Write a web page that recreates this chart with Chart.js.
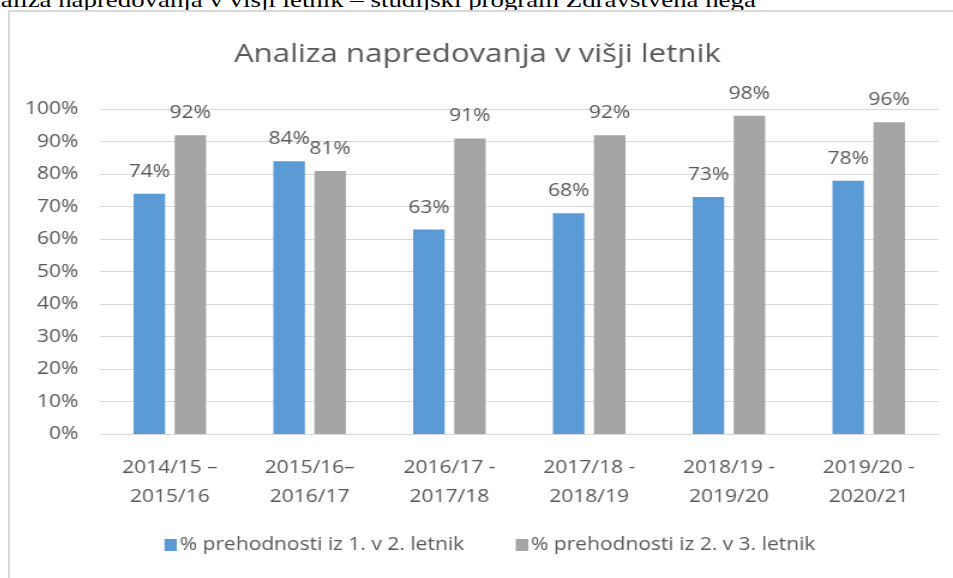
<!DOCTYPE html>
<html>
<head>
<meta charset="utf-8">
<script src="https://cdn.jsdelivr.net/npm/chart.js@4/dist/chart.umd.min.js"></script>
<style>
  html, body { margin: 0; padding: 0; width: 953px; height: 578px; overflow: hidden; background: #ffffff; }
  #caption { position: absolute; left: -32px; top: -11px; white-space: nowrap; font-family: "Liberation Serif", serif; font-size: 22px; line-height: 22px; color: #000; transform: scaleX(1.22); transform-origin: 0 0; }
  #frame { position: absolute; left: 8px; top: 10px; width: 960px; height: 600px; border-left: 2px solid #d9d9d9; border-top: 2px solid #d9d9d9; box-sizing: border-box; }
  #c { position: absolute; left: 16px; top: 12px; transform: scaleX(1.19974); transform-origin: 0 0; }
</style>
</head>
<body>
<div id="caption">Analiza napredovanja v višji letnik – študijski program Zdravstvena nega</div>
<div id="frame"></div>
<canvas id="c" width="781" height="566"></canvas>
<script>
const chartTitle = 'Analiza napredovanja v višji letnik';
const categories = [
  ['2014/15 –', '2015/16'],
  ['2015/16–', '2016/17'],
  ['2016/17 -', '2017/18'],
  ['2017/18 -', '2018/19'],
  ['2018/19 -', '2019/20'],
  ['2019/20 -', '2020/21']
];
const seriesNames = ['% prehodnosti iz 1. v 2. letnik', '% prehodnosti iz 2. v 3. letnik'];
const series1 = [74, 84, 63, 68, 73, 78];
const series2 = [92, 81, 91, 92, 98, 96];
const seriesColors = ['#5b9bd5', '#a5a5a5'];
const yMin = 0, yMax = 100, yStep = 10;

const FONT = '"Open Sans", sans-serif';
const TEXT = '#595959';

// legend marker: square placed at the right end of a wider transparent image
function legendMarker(color) {
  const cv = document.createElement('canvas');
  cv.width = 37; cv.height = 12;
  const g = cv.getContext('2d');
  g.fillStyle = color;
  g.fillRect(27, 0, 10, 12);
  return cv;
}
const markers = seriesColors.map(legendMarker);

const dataLabels = {
  id: 'dataLabels',
  afterDatasetsDraw(chart) {
    const ctx = chart.ctx;
    ctx.save();
    ctx.font = '17.5px ' + FONT;
    ctx.fillStyle = TEXT;
    ctx.textAlign = 'center';
    ctx.textBaseline = 'middle';
    chart.data.datasets.forEach((ds, i) => {
      chart.getDatasetMeta(i).data.forEach((el, j) => {
        ctx.fillText(ds.data[j] + '%', el.x, el.y - 22);
      });
    });
    ctx.restore();
  }
};

new Chart(document.getElementById('c'), {
  type: 'bar',
  data: {
    labels: categories,
    datasets: [
      { label: seriesNames[0], data: series1, backgroundColor: seriesColors[0], barPercentage: 0.768, categoryPercentage: 0.587 },
      { label: seriesNames[1], data: series2, backgroundColor: seriesColors[1], barPercentage: 0.768, categoryPercentage: 0.587 }
    ]
  },
  options: {
    responsive: false,
    maintainAspectRatio: false,
    animation: false,
    layout: { padding: { left: 0, right: 12, top: 0, bottom: 14 } },
    scales: {
      x: {
        grid: { display: false, drawTicks: false },
        border: { display: true, color: '#d9d9d9', width: 1 },
        ticks: { color: TEXT, font: { family: FONT, size: 17.5, lineHeight: 1.657 }, padding: 19.5, maxRotation: 0, autoSkip: false },
        afterFit(s) { s.height = 80; }
      },
      y: {
        min: yMin, max: yMax,
        grid: { color: '#d9d9d9', lineWidth: 1, drawTicks: false },
        border: { display: false },
        ticks: { stepSize: yStep, color: TEXT, font: { family: FONT, size: 17.5 }, padding: 18, callback: v => v + '%' },
        afterFit(s) { s.width = 70; }
      }
    },
    plugins: {
      title: {
        display: true, text: chartTitle, color: TEXT,
        font: { family: FONT, size: 26, weight: 'normal', lineHeight: 1.2 },
        padding: { top: 27, bottom: 39 }
      },
      legend: {
        position: 'bottom',
        labels: {
          color: TEXT, font: { family: FONT, size: 17.5 },
          usePointStyle: true, pointStyleWidth: 25, boxHeight: 10, padding: 22,
          generateLabels(chart) {
            const items = Chart.defaults.plugins.legend.labels.generateLabels(chart);
            items.forEach((it, i) => { it.pointStyle = markers[i]; });
            return items;
          }
        }
      },
      tooltip: { enabled: false }
    }
  },
  plugins: [dataLabels]
});
</script>
</body>
</html>
